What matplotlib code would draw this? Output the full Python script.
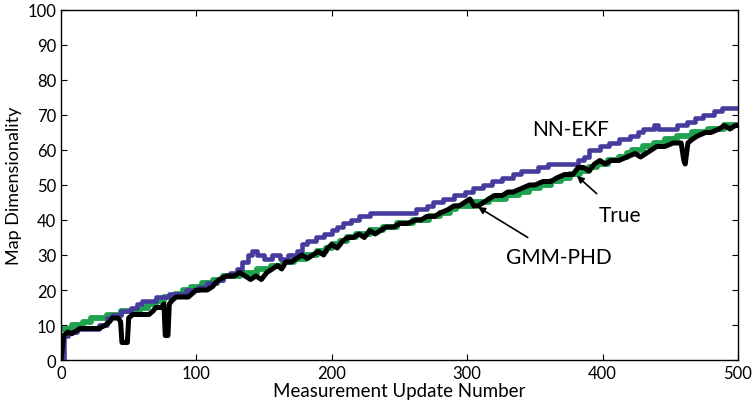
import numpy as np
import matplotlib.pyplot as plt

# ground truth map size (step changes)
true_x = [0, 8, 16, 22, 34, 44, 58, 64, 70, 76, 84, 90, 96, 104, 112, 120, 132, 145, 155,
          164, 172, 181, 189, 196, 200, 206, 211, 218, 228, 238, 248, 260, 272, 280, 287,
          292, 304, 316, 329, 338, 346, 354, 362, 369, 376, 383, 390, 396, 404, 412, 418,
          422, 430, 438, 446, 455, 466, 478, 490, 500]
true_y = [9, 10, 11, 12, 13, 14, 15, 16, 17, 18, 19, 20, 21, 22, 23, 24, 25, 26, 27,
          28, 29, 30, 31, 32, 33, 34, 35, 36, 37, 38, 39, 40, 41, 42, 43,
          44, 45, 46, 47, 48, 49, 50, 51, 52, 53, 54, 55, 56, 57, 58, 59,
          60, 61, 62, 63, 64, 65, 66, 67, 67]

# NN-EKF estimate (step changes)
nnekf_x = [0, 2, 5, 12, 28, 34, 38, 44, 52, 56, 60, 70, 80, 92, 102, 108, 115, 120, 125,
           130, 134, 138, 141, 145, 150, 156, 162, 168, 174, 178, 182, 188, 194, 200, 204,
           208, 214, 220, 228, 262, 270, 275, 282, 290, 298, 304, 312, 318, 326, 334, 340,
           352, 360, 382, 386, 390, 398, 405, 412, 420, 426, 430, 438, 441, 455, 462, 468,
           474, 482, 488, 500]
nnekf_y = [0, 7, 8, 9, 10, 12, 13, 14, 15, 16, 17, 18, 19, 20, 21, 22, 23, 24, 25,
           26, 28, 30, 31, 30, 29, 30, 29, 30, 31, 33, 34, 35, 36, 37, 38,
           39, 40, 41, 42, 43, 44, 45, 46, 47, 48, 49, 50, 51, 52, 53, 54,
           55, 56, 57, 58, 60, 61, 62, 63, 64, 65, 66, 67, 66, 67, 68, 69,
           70, 71, 72, 72]

# GMM-PHD estimate
gmm_x = [0, 2, 5, 8, 10, 14, 20, 28, 33, 36, 38, 42, 44, 45, 49, 50, 53, 60, 65, 68, 70,
         74, 76, 77, 79, 80, 82, 85, 94, 97, 100, 108, 112, 114, 117, 122, 128, 132, 136,
         140, 144, 148, 152, 156, 160, 163, 166, 170, 174, 178, 182, 186, 190, 194, 197,
         200, 204, 208, 212, 216, 220, 224, 228, 232, 236, 240, 246, 250, 256, 262, 266,
         270, 276, 280, 286, 290, 294, 298, 302, 305, 308, 312, 316, 320, 326, 330, 334,
         340, 346, 350, 356, 362, 366, 372, 378, 382, 386, 390, 394, 398, 402, 406, 412,
         418, 424, 428, 432, 436, 440, 446, 452, 458, 460, 461, 463, 466, 470, 476, 480,
         486, 490, 494, 498, 500]
gmm_y = [0, 7, 8, 7.5, 8, 9, 9, 9, 10, 11, 12, 12, 11, 5, 5, 12, 13, 13, 13, 14, 15,
         15, 16, 7, 7, 16, 17, 18, 18, 19, 20, 20, 21, 22, 23, 24, 24, 25, 24,
         23, 24, 23, 25, 26, 27, 26, 28, 28, 29, 30, 29, 30, 31, 30, 32,
         33, 32, 34, 35, 35, 36, 35, 37, 36, 37, 38, 38, 39, 39, 40, 40,
         41, 41, 42, 43, 44, 44, 45, 46, 44, 44, 45, 46, 47, 47, 48, 48,
         49, 50, 50, 51, 51, 52, 53, 53, 55, 55, 54, 56, 57, 56, 57, 57,
         58, 59, 58, 59, 60, 61, 61, 62, 62, 57, 56, 62, 63, 64, 65, 65,
         66, 67, 66, 67, 67]

xticks = [0, 100, 200, 300, 400, 500]
yticks = [0, 10, 20, 30, 40, 50, 60, 70, 80, 90, 100]

plt.rcParams['font.family'] = ['Lato', 'DejaVu Sans']

fig = plt.figure(figsize=(7.54, 4.10), dpi=100)
ax = fig.add_axes([0.0809, 0.1195, 0.8979, 0.8537])

ax.plot(true_x, true_y, drawstyle='steps-post', color='#1ea24e', lw=4.2, zorder=2)
ax.plot(nnekf_x, nnekf_y, drawstyle='steps-post', color='#463c9e', lw=3.3, zorder=3)
ax.plot(gmm_x, gmm_y, color='black', lw=3.6, zorder=4)

ax.set_xlim(0, 500)
ax.set_ylim(0, 100)
ax.set_xticks(xticks)
ax.set_yticks(yticks)
ax.tick_params(direction='in', top=True, right=True, labelsize=12, length=4)
for s in ax.spines.values():
    s.set_linewidth(1.0)

ax.set_xlabel('Measurement Update Number', fontsize=13.5, labelpad=1)
ax.set_ylabel('Map Dimensionality', fontsize=13, labelpad=4)

ax.text(376, 66, 'NN-EKF', fontsize=15, ha='center', va='center')
ax.annotate('True', xy=(381, 52.6), xytext=(413, 41.5), fontsize=15,
            ha='center', va='center',
            arrowprops=dict(arrowstyle='-|>', color='k', lw=1.2, mutation_scale=10,
                            shrinkA=9, shrinkB=0))
ax.annotate('GMM-PHD', xy=(308, 43.7), xytext=(368, 29.5), fontsize=15,
            ha='center', va='center',
            arrowprops=dict(arrowstyle='-|>', color='k', lw=1.2, mutation_scale=10,
                            shrinkA=9, shrinkB=0))

fig.savefig('out.png', dpi=100)
